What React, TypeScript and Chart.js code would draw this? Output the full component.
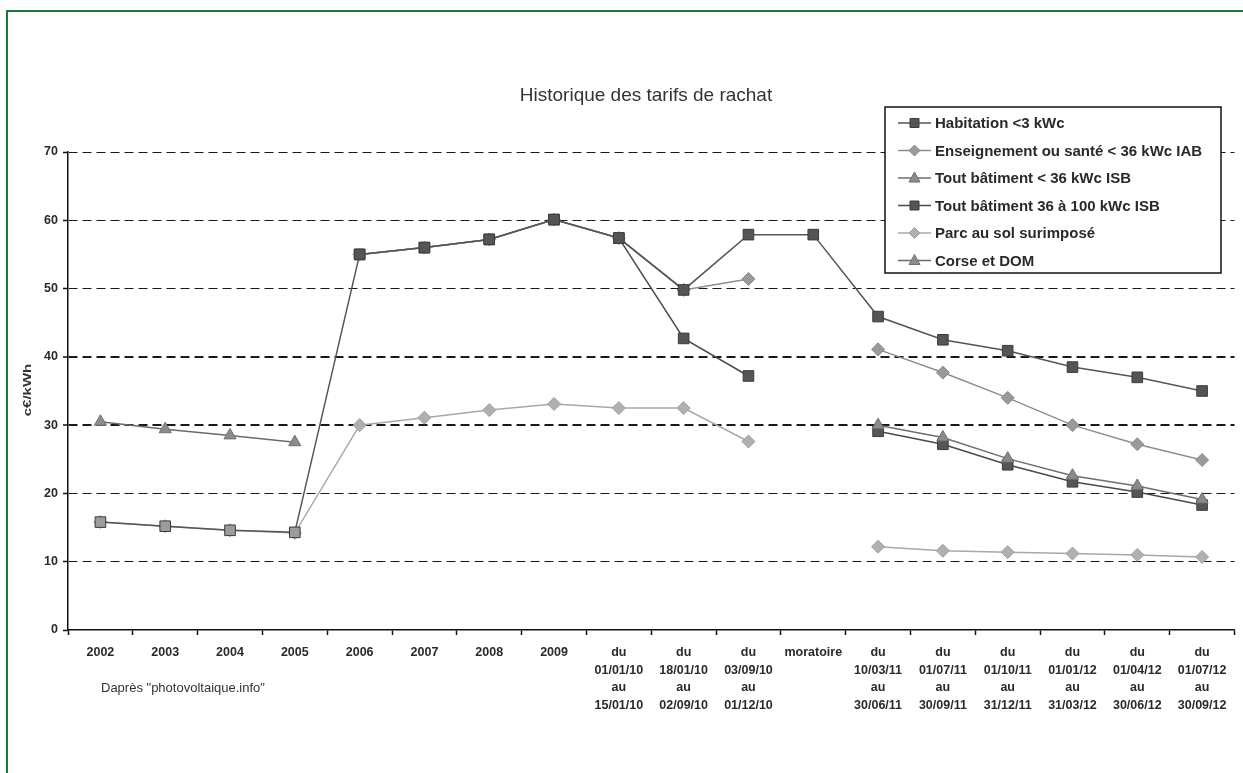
import React, { useEffect, useRef } from 'react';
import { Chart, registerables } from 'chart.js';

Chart.register(...registerables);

// Tariff periods (x axis). Multi-line periods are given as arrays of lines.
const categories: (string | string[])[] = [
  '2002', '2003', '2004', '2005', '2006', '2007', '2008', '2009',
  ['du', '01/01/10', 'au', '15/01/10'],
  ['du', '18/01/10', 'au', '02/09/10'],
  ['du', '03/09/10', 'au', '01/12/10'],
  'moratoire',
  ['du', '10/03/11', 'au', '30/06/11'],
  ['du', '01/07/11', 'au', '30/09/11'],
  ['du', '01/10/11', 'au', '31/12/11'],
  ['du', '01/01/12', 'au', '31/03/12'],
  ['du', '01/04/12', 'au', '30/06/12'],
  ['du', '01/07/12', 'au', '30/09/12'],
];

// Feed-in tariffs in c€/kWh
const habitation = [15.8, 15.2, 14.6, 14.3, 55, 56, 57.2, 60.1, 57.4, 49.8, 57.9, 57.9, 45.9, 42.5, 40.9, 38.5, 37, 35];
const enseignementSante = [null, null, null, null, 55, 56, 57.2, 60.1, 57.4, 49.8, 51.4, null, 41.1, 37.7, 34, 30, 27.2, 24.9];
const toutBatimentMoins36 = [null, null, null, null, null, null, null, null, null, null, null, null, 30, 28.2, 25.1, 22.6, 21.1, 19.1];
const toutBatiment36a100 = [null, null, null, null, 55, 56, 57.2, 60.1, 57.4, 42.7, 37.2, null, 29.1, 27.2, 24.2, 21.7, 20.2, 18.3];
const parcAuSol = [15.8, 15.2, 14.6, 14.2, 30, 31.1, 32.2, 33.1, 32.5, 32.5, 27.6, null, 12.2, 11.6, 11.4, 11.2, 11, 10.7];
const corseDom = [30.5, 29.4, 28.5, 27.5, null, null, null, null, null, null, null, null, null, null, null, null, null, null];

const seriesLabels = [
  'Habitation <3 kWc',
  'Enseignement ou santé < 36 kWc IAB',
  'Tout bâtiment < 36 kWc ISB',
  'Tout bâtiment 36 à 100 kWc ISB',
  'Parc au sol surimposé',
  'Corse et DOM',
];

const TITLE = 'Historique des tarifs de rachat';
const Y_TITLE = 'c€/kWh';
const SOURCE = 'Daprès "photovoltaique.info"';

const FONT = '"Liberation Sans", Arial, sans-serif';
const DARK = '#555555';
const DARK_EDGE = '#3c3c3c';
const LIGHT = '#a8a8a8';
const MID = '#8a8a8a';

function drawMarker(ctx: CanvasRenderingContext2D, style: string, x: number, y: number, fill: string, stroke: string) {
  ctx.save();
  ctx.fillStyle = fill;
  ctx.strokeStyle = stroke;
  ctx.lineWidth = 1;
  ctx.beginPath();
  if (style === 'rect') {
    ctx.rect(x - 4.5, y - 4.5, 9, 9);
  } else if (style === 'rectRot') {
    ctx.moveTo(x - 5.5, y);
    ctx.lineTo(x, y - 5.5);
    ctx.lineTo(x + 5.5, y);
    ctx.lineTo(x, y + 5.5);
    ctx.closePath();
  } else {
    ctx.moveTo(x, y - 6);
    ctx.lineTo(x + 5.5, y + 4);
    ctx.lineTo(x - 5.5, y + 4);
    ctx.closePath();
  }
  ctx.fill();
  ctx.stroke();
  ctx.restore();
}

const decorPlugin = {
  id: 'decor',
  beforeDraw(chart: any) {
    const { ctx, width, height } = chart;
    ctx.save();
    ctx.fillStyle = '#ffffff';
    ctx.fillRect(0, 0, width, height);
    // green frame on the left and top edges
    ctx.strokeStyle = '#1d7a3e';
    ctx.lineWidth = 2;
    ctx.beginPath();
    ctx.moveTo(7, height);
    ctx.lineTo(7, 11);
    ctx.lineTo(width, 11);
    ctx.stroke();
    ctx.restore();
  },
  afterDraw(chart: any) {
    const { ctx } = chart;
    ctx.save();

    // title
    ctx.fillStyle = '#333333';
    ctx.font = `19px ${FONT}`;
    ctx.textAlign = 'center';
    ctx.textBaseline = 'middle';
    ctx.fillText(TITLE, 646, 96);

    // y axis title
    ctx.save();
    ctx.translate(28, 390);
    ctx.rotate(-Math.PI / 2);
    ctx.scale(1.25, 0.9);
    ctx.font = `bold 12px ${FONT}`;
    ctx.fillStyle = '#333333';
    ctx.fillText(Y_TITLE, 0, 0);
    ctx.restore();

    // source note
    ctx.font = `13px ${FONT}`;
    ctx.textAlign = 'left';
    ctx.fillStyle = '#333333';
    ctx.fillText(SOURCE, 101, 688);

    // legend box
    const box = { left: 885, top: 107, right: 1221, bottom: 273 };
    ctx.fillStyle = '#ffffff';
    ctx.fillRect(box.left, box.top, box.right - box.left, box.bottom - box.top);
    ctx.strokeStyle = '#111111';
    ctx.lineWidth = 1.5;
    ctx.strokeRect(box.left, box.top, box.right - box.left, box.bottom - box.top);

    ctx.font = `bold 15px ${FONT}`;
    ctx.textAlign = 'left';
    ctx.textBaseline = 'middle';
    chart.data.datasets.forEach((ds: any, i: number) => {
      const y = 123 + i * 27.5;
      ctx.strokeStyle = ds.borderColor;
      ctx.lineWidth = 1.5;
      ctx.beginPath();
      ctx.moveTo(898, y);
      ctx.lineTo(931, y);
      ctx.stroke();
      const fill = typeof ds.pointBackgroundColor === 'function' ? ds.legendFill : ds.pointBackgroundColor;
      drawMarker(ctx, ds.pointStyle, 914.5, y, fill, ds.pointBorderColor);
      ctx.fillStyle = '#2a2a2a';
      ctx.fillText(ds.label, 935, y + 1);
    });

    ctx.restore();
  },
};

export default function App() {
  const canvasRef = useRef<HTMLCanvasElement | null>(null);

  useEffect(() => {
    if (!canvasRef.current) return;
    Chart.defaults.font.family = FONT;

    const chart = new Chart(canvasRef.current, {
      type: 'line',
      data: {
        labels: categories as any,
        datasets: [
          {
            label: seriesLabels[0],
            data: habitation,
            borderColor: DARK,
            borderWidth: 1.5,
            pointStyle: 'rect',
            pointRadius: 7.5,
            // early years shown with lighter markers
            pointBackgroundColor: (c: any) => (c.dataIndex < 4 ? '#9c9c9c' : DARK),
            legendFill: DARK,
            pointBorderColor: DARK_EDGE,
            pointBorderWidth: 1,
          } as any,
          {
            label: seriesLabels[1],
            data: enseignementSante,
            borderColor: '#8e8e8e',
            borderWidth: 1.5,
            pointStyle: 'rectRot',
            pointRadius: 6.5,
            pointBackgroundColor: '#9a9a9a',
            pointBorderColor: '#8a8a8a',
            pointBorderWidth: 1,
          },
          {
            label: seriesLabels[2],
            data: toutBatimentMoins36,
            borderColor: '#6e6e6e',
            borderWidth: 1.5,
            pointStyle: 'triangle',
            pointRadius: 7,
            pointBackgroundColor: MID,
            pointBorderColor: '#6e6e6e',
            pointBorderWidth: 1,
          },
          {
            label: seriesLabels[3],
            data: toutBatiment36a100,
            borderColor: '#4a4a4a',
            borderWidth: 1.5,
            pointStyle: 'rect',
            pointRadius: 7.5,
            pointBackgroundColor: DARK,
            pointBorderColor: DARK_EDGE,
            pointBorderWidth: 1,
          },
          {
            label: seriesLabels[4],
            data: parcAuSol,
            borderColor: LIGHT,
            borderWidth: 1.5,
            pointStyle: 'rectRot',
            pointRadius: 6.5,
            pointBackgroundColor: '#b0b0b0',
            pointBorderColor: '#a0a0a0',
            pointBorderWidth: 1,
          },
          {
            label: seriesLabels[5],
            data: corseDom,
            borderColor: '#6a6a6a',
            borderWidth: 1.5,
            pointStyle: 'triangle',
            pointRadius: 7,
            pointBackgroundColor: '#8c8c8c',
            pointBorderColor: '#707070',
            pointBorderWidth: 1,
          },
        ],
      },
      options: {
        responsive: false,
        animation: false,
        spanGaps: false,
        layout: { padding: { left: 0, top: 152, right: 3, bottom: 0 } },
        plugins: {
          legend: { display: false },
          title: { display: false },
          tooltip: { enabled: false },
        },
        scales: {
          x: {
            type: 'category',
            offset: true,
            grid: {
              display: true,
              offset: true,
              drawOnChartArea: false,
              drawTicks: true,
              tickLength: 5,
              tickColor: '#111111',
              tickWidth: 1.5,
            },
            border: { display: true, color: '#111111', width: 1.5 },
            ticks: {
              color: '#2a2a2a',
              font: { size: 12.5, weight: 'bold', lineHeight: 1.4 },
              padding: 9,
              maxRotation: 0,
              autoSkip: false,
            },
            afterFit: (scale: any) => {
              scale.height = 143;
            },
          },
          y: {
            min: 0,
            max: 70,
            ticks: {
              stepSize: 10,
              color: '#2a2a2a',
              font: { size: 12.5, weight: 'bold' },
              padding: 5,
            },
            grid: {
              color: (c: any) => (c.tick && c.tick.value === 0 ? 'rgba(0,0,0,0)' : '#1a1a1a'),
              lineWidth: (c: any) => (c.tick && (c.tick.value === 30 || c.tick.value === 40) ? 2 : 1),
              drawTicks: true,
              tickLength: 5,
              tickColor: '#111111',
              tickWidth: 1.5,
            },
            border: { display: true, color: '#111111', width: 1.5, dash: [9, 5] },
            afterFit: (scale: any) => {
              scale.width = 68;
            },
          },
        },
      },
      plugins: [decorPlugin],
    } as any);

    return () => {
      chart.destroy();
    };
  }, []);

  return (
    <div style={{ position: 'absolute', left: 0, top: 0, width: 1243, height: 773 }}>
      <canvas ref={canvasRef} width={1243} height={773} style={{ display: 'block', width: 1243, height: 773 }} />
    </div>
  );
}
